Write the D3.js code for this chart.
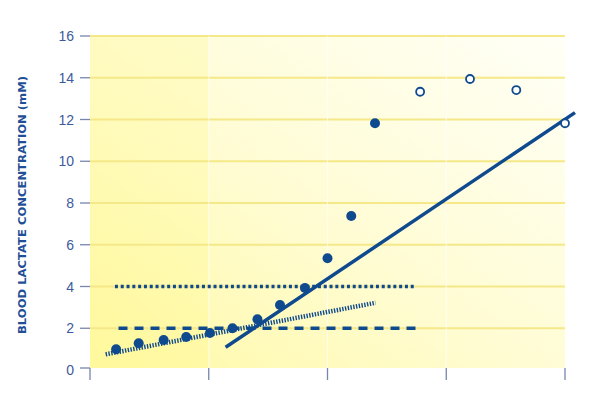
<!DOCTYPE html>
<html>
<head>
<meta charset="utf-8">
<script src="https://cdnjs.cloudflare.com/ajax/libs/d3/7.8.5/d3.min.js"></script>
<style>
  body { margin: 0; background: #fff; }
  #chart { width: 590px; height: 404px; }
</style>
</head>
<body>
<div id="chart"></div>
<script>
// measured points (workload step vs lactate)
var filledX = [1.1, 2.05, 3.1, 4.05, 5.05, 6.0, 7.05, 8.0, 9.05, 10.0, 11.0, 12.0];
var filledY = [0.99, 1.28, 1.44, 1.58, 1.77, 2.0, 2.43, 3.11, 3.93, 5.35, 7.38, 11.82];
var openX = [13.9, 16.0, 17.95, 20.0];
var openY = [13.33, 13.94, 13.41, 11.82];

// reference lines [x0, y0, x1, y1]
var line4mM = [1.05, 4, 13.65, 4];
var line2mM = [1.2, 2, 13.87, 2];
var lowSlope = [0.66, 0.75, 12.02, 3.22];
var highSlope = [5.71, 1.09, 20.42, 12.33];

var yTicks = [0, 2, 4, 6, 8, 10, 12, 14, 16];
var xTicks = [0, 5, 10, 15, 20];

var navy = "#0f4a8e";
var width = 590, height = 404;
var margin = {top: 36, right: 25, bottom: 34, left: 90};
var w = width - margin.left - margin.right,
    h = height - margin.top - margin.bottom;

var x = d3.scaleLinear().domain([0, 20]).range([0, w]);
var y = d3.scaleLinear().domain([0, 16]).range([h, 0]);

var svg = d3.select("#chart").append("svg")
    .attr("width", width)
    .attr("height", height);

var defs = svg.append("defs");
var grad = defs.append("linearGradient")
    .attr("id", "bg")
    .attr("x1", "0%").attr("y1", "100%")
    .attr("x2", "100%").attr("y2", "0%");
grad.append("stop").attr("offset", "0%").attr("stop-color", "#fff9a4");
grad.append("stop").attr("offset", "45%").attr("stop-color", "#fffcd2");
grad.append("stop").attr("offset", "100%").attr("stop-color", "#fffff7");

var g = svg.append("g")
    .attr("transform", "translate(" + margin.left + "," + margin.top + ")");

// background
g.append("rect")
    .attr("width", w)
    .attr("height", h - 2)
    .attr("fill", "url(#bg)");
// first column a touch more saturated
g.append("rect")
    .attr("width", x(5))
    .attr("height", h - 2)
    .attr("fill", "#fff685")
    .attr("opacity", 0.25);

// horizontal grid
g.selectAll(".grid")
    .data(yTicks.filter(function (d) { return d > 0; }))
    .enter().append("line")
    .attr("class", "grid")
    .attr("x1", 0).attr("x2", w)
    .attr("y1", function (d) { return y(d); })
    .attr("y2", function (d) { return y(d); })
    .attr("stroke", "#f4e888")
    .attr("stroke-width", 2);

// column separators
g.selectAll(".sep")
    .data([5, 10, 15])
    .enter().append("line")
    .attr("class", "sep")
    .attr("x1", function (d) { return x(d); })
    .attr("x2", function (d) { return x(d); })
    .attr("y1", 0).attr("y2", h - 2)
    .attr("stroke", "#ffffff")
    .attr("stroke-opacity", 0.6)
    .attr("stroke-width", 1.2);

// y axis ticks + labels
var ya = g.append("g").attr("class", "yaxis");
ya.selectAll("line")
    .data(yTicks)
    .enter().append("line")
    .attr("x1", -10).attr("x2", 0)
    .attr("y1", function (d) { return y(d) - (d === 0 ? 2 : 0); })
    .attr("y2", function (d) { return y(d) - (d === 0 ? 2 : 0); })
    .attr("stroke", "#7786ad")
    .attr("stroke-width", 1.3);
ya.selectAll("text")
    .data(yTicks)
    .enter().append("text")
    .attr("x", -16)
    .attr("y", function (d) { return y(d); })
    .attr("dy", "0.36em")
    .attr("text-anchor", "end")
    .attr("fill", "#3c5b9c")
    .style("font-family", "'Liberation Sans', Arial, sans-serif")
    .style("font-size", "14px")
    .text(function (d) { return d; });

// x axis ticks (no labels)
g.append("g").selectAll("line")
    .data(xTicks)
    .enter().append("line")
    .attr("x1", function (d) { return x(d); })
    .attr("x2", function (d) { return x(d); })
    .attr("y1", h - 2).attr("y2", h + 10)
    .attr("stroke", "#7786ad")
    .attr("stroke-width", 1.3);

// axis title
svg.append("text")
    .attr("transform", "translate(26," + (margin.top + y(8) + 2) + ") rotate(-90)")
    .attr("text-anchor", "middle")
    .attr("fill", "#1f4f96")
    .style("font-family", "'DejaVu Sans', sans-serif")
    .style("font-weight", "bold")
    .style("font-size", "11px")
    .attr("textLength", 258)
    .attr("lengthAdjust", "spacingAndGlyphs")
    .text("BLOOD LACTATE CONCENTRATION (mM)");

function seg(sel, p) {
    sel.attr("x1", x(p[0])).attr("y1", y(p[1]))
        .attr("x2", x(p[2])).attr("y2", y(p[3]))
        .attr("stroke", navy)
        .attr("fill", "none");
    return sel;
}

seg(g.append("line"), line4mM)
    .attr("stroke-width", 3.5)
    .attr("stroke-dasharray", "3,2.8");
seg(g.append("line"), line2mM)
    .attr("stroke-width", 3.5)
    .attr("stroke-dasharray", "9,7");
seg(g.append("line"), lowSlope)
    .attr("stroke-width", 4.5)
    .attr("stroke-dasharray", "1.4,1.4");

// filled points
g.selectAll(".filled")
    .data(d3.zip(filledX, filledY))
    .enter().append("circle")
    .attr("class", "filled")
    .attr("cx", function (d) { return x(d[0]); })
    .attr("cy", function (d) { return y(d[1]); })
    .attr("r", 5)
    .attr("fill", navy);

seg(g.append("line"), highSlope)
    .attr("stroke-width", 3.5);

// open points
g.selectAll(".open")
    .data(d3.zip(openX, openY))
    .enter().append("circle")
    .attr("class", "open")
    .attr("cx", function (d) { return x(d[0]); })
    .attr("cy", function (d) { return y(d[1]); })
    .attr("r", 4)
    .attr("fill", "#ffffff")
    .attr("stroke", navy)
    .attr("stroke-width", 1.8);
</script>
</body>
</html>
